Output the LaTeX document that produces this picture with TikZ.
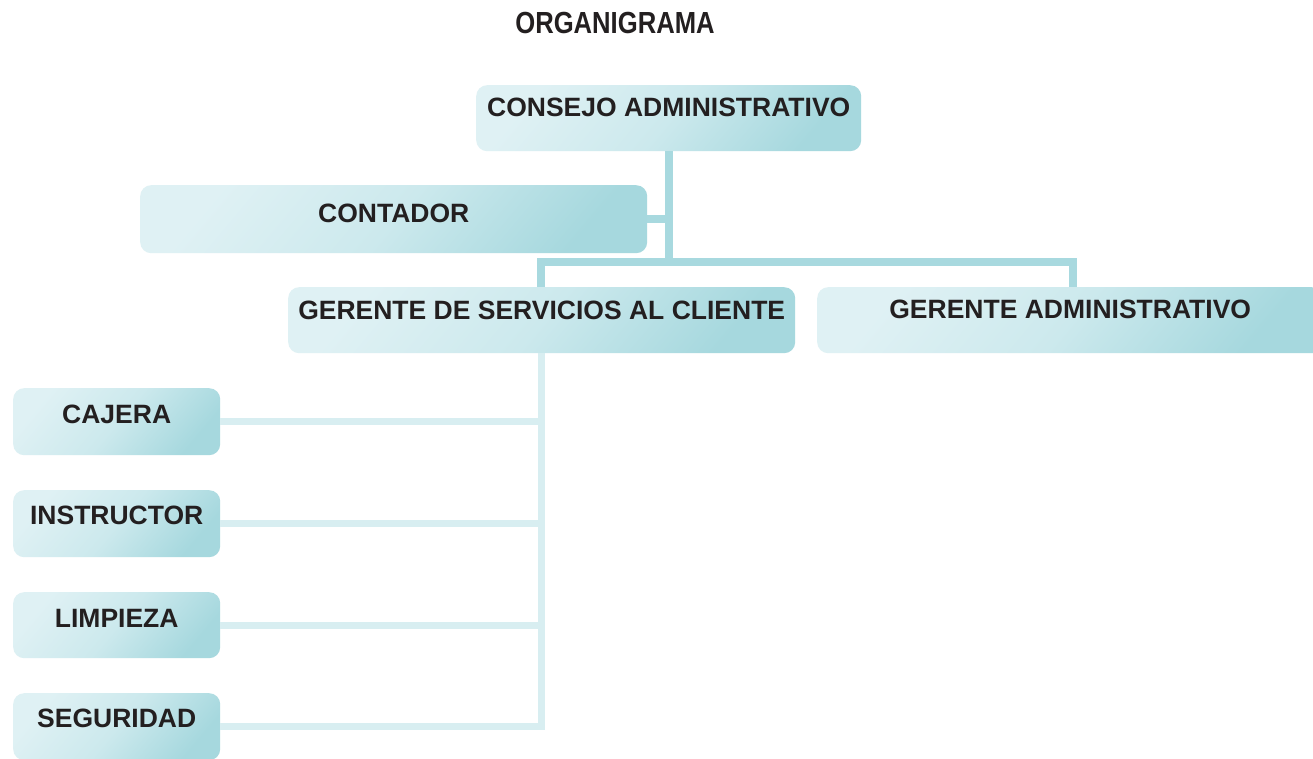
\documentclass[tikz,border=0pt]{standalone}
\usepackage{fontspec}
\setmainfont{Liberation Sans}
\newfontfamily\titlefont[FakeStretch=0.84]{Liberation Sans}
\definecolor{boxL}{HTML}{DFF1F4}
\definecolor{boxM}{HTML}{CCE9ED}
\definecolor{boxD}{HTML}{A6D8DE}
\definecolor{lineD}{HTML}{A8D9DF}
\definecolor{lineL}{HTML}{D8EEF1}
\definecolor{txt}{HTML}{231F20}
\tikzset{
  orgbox/.style n args={3}{anchor=north west, inner xsep=0pt, inner ysep=0pt,
    minimum width=#1, text height=#2, text depth=#3,
    rounded corners=11pt, shading=axis, top color=boxL, bottom color=boxD,
    middle color=boxM, shading angle=50,
    font=\fontsize{26.5}{30}\selectfont\bfseries, text=txt},
  topline/.style={draw=lineD, line width=8pt},
  lowline/.style={draw=lineL, line width=7pt},
}
\begin{document}
\begin{tikzpicture}[x=1pt,y=-1pt]
\clip (0,0) rectangle (1313,759);
\fill[white] (0,0) rectangle (1313,759);
\node[font=\titlefont\fontsize{30.5}{34}\selectfont\bfseries, text=txt] (title) at (615,23) {ORGANIGRAMA};
\coordinate (barL) at (541,262);
\coordinate (barM) at (669,262);
\coordinate (barR) at (1073,262);
\coordinate (lowEnd) at (541,726);
% boxes
\node[orgbox={385}{31}{35}] (cons) at (476,85) {CONSEJO ADMINISTRATIVO};
\node[orgbox={507}{37}{31}] (cont) at (140,185) {CONTADOR};
\node[orgbox={507}{32}{34}] (gsc) at (288,287) {GERENTE DE SERVICIOS AL CLIENTE};
\node[orgbox={506}{31}{35}] (gad) at (817,287) {GERENTE ADMINISTRATIVO};
\node[orgbox={207}{35}{32}] (caj) at (13,388) {CAJERA};
\node[orgbox={207}{34}{33}] (ins) at (13,490) {INSTRUCTOR};
\node[orgbox={207}{35}{31}] (lim) at (13,592) {LIMPIEZA};
\node[orgbox={207}{34}{33}] (seg) at (13,693) {SEGURIDAD};
% top connectors
\draw[topline] (cons.south -| barM) -- (barM);
\draw[topline] (cont.east) -- (cont.east -| barM);
\draw[topline] ([xshift=-4pt]barL) -- ([xshift=4pt]barR);
\draw[topline] (barL) -- (gsc.north -| barL);
\draw[topline] (barR) -- (gad.north -| barR);
% lower connectors
\draw[lowline] (gsc.south -| lowEnd) -- ([yshift=3.5pt]lowEnd);
\draw[lowline] (caj.east) -- (caj.east -| lowEnd);
\draw[lowline] (ins.east) -- (ins.east -| lowEnd);
\draw[lowline] (lim.east) -- (lim.east -| lowEnd);
\draw[lowline] (seg.east) -- ([xshift=3.5pt]seg.east -| lowEnd);
\end{tikzpicture}
\end{document}
